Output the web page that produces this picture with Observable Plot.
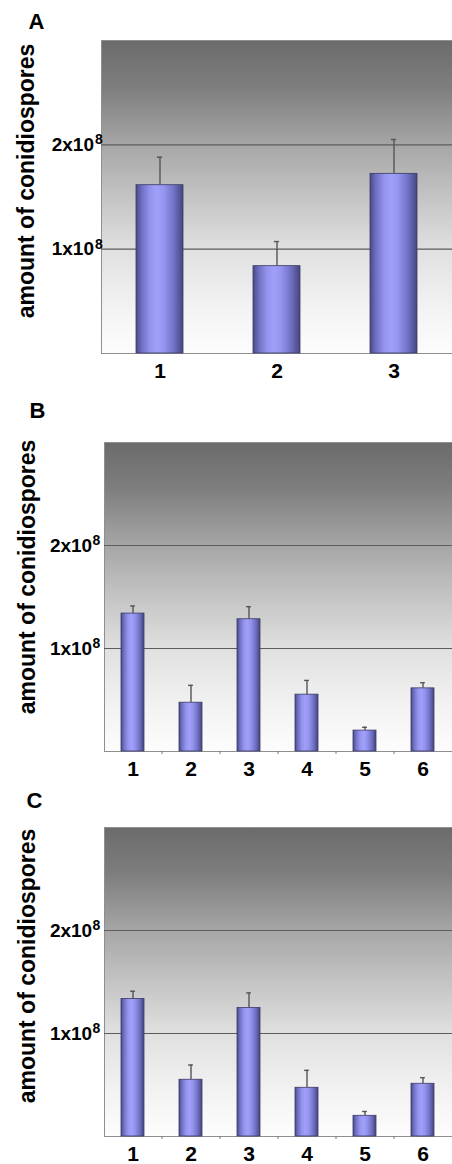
<!DOCTYPE html>
<html>
<head>
<meta charset="utf-8">
<script src="https://cdn.jsdelivr.net/npm/d3@7"></script>
<script src="https://cdn.jsdelivr.net/npm/@observablehq/plot@0.6"></script>
<style>
  html, body { margin: 0; padding: 0; background: #fff; }
  #chart svg { display: block; }
</style>
</head>
<body>
<div id="chart"></div>
<script>
// ---- Data ----
const yTitle = "amount of conidiospores";
const yTicks = [1e8, 2e8];
const yTickBase = ["1x10", "2x10"];
const yTickExp = ["8", "8"];

const catsA = ["1", "2", "3"];
const valuesA = [1.613e8, 0.837e8, 1.722e8];
const errsA = [0.269e8, 0.236e8, 0.329e8];

const catsB = ["1", "2", "3", "4", "5", "6"];
const valuesB = [1.339e8, 0.474e8, 1.284e8, 0.552e8, 0.203e8, 0.613e8];
const errsB = [0.074e8, 0.168e8, 0.122e8, 0.138e8, 0.032e8, 0.055e8];

const catsC = ["1", "2", "3", "4", "5", "6"];
const valuesC = [1.335e8, 0.551e8, 1.248e8, 0.473e8, 0.201e8, 0.512e8];
const errsC = [0.075e8, 0.143e8, 0.146e8, 0.169e8, 0.042e8, 0.059e8];

// ---- Drawing ----
const W = 452;
const FONT = "'Liberation Sans', Arial, Helvetica, sans-serif";

function addGradients(svg, id) {
  const defs = d3.select(svg).insert("defs", ":first-child");
  const bg = defs.append("linearGradient").attr("id", "bg" + id)
    .attr("x1", 0).attr("y1", 0).attr("x2", 0).attr("y2", 1);
  [[0, "#6b6b6b"], [0.15, "#7e7e7e"], [0.333, "#a6a6a6"], [0.5, "#c4c4c4"],
   [0.667, "#e0e0e0"], [0.85, "#f2f2f2"], [1, "#fdfdfd"]]
    .forEach(([o, c]) => bg.append("stop").attr("offset", o).attr("stop-color", c));
  const bar = defs.append("linearGradient").attr("id", "bar" + id)
    .attr("x1", 0).attr("y1", 0).attr("x2", 1).attr("y2", 0);
  [[0, "#4a4a82"], [0.12, "#6e6ec2"], [0.3, "#9494ee"], [0.45, "#a0a0fa"],
   [0.6, "#9494ee"], [0.8, "#7272c8"], [1, "#46467c"]]
    .forEach(([o, c]) => bar.append("stop").attr("offset", o).attr("stop-color", c));
}

function panel(cfg) {
  const {id, letter, cats, values, errs, height, mT, mB, mL, letterX, letterY,
         titleX, titleDy, baseDx, supDx, boundaryTicks} = cfg;
  const n = cats.length;
  const step = (W - mL) / n;
  const bw = step * 0.4;
  const capInset = (bw - 5) / 2;
  const data = cats.map((c, i) => ({c, v: values[i], e: values[i] + errs[i]}));
  const marks = [
    Plot.frame({fill: `url(#bg${id})`, stroke: "#8f8f8f"}),
    Plot.ruleY(yTicks, {y: d => d, stroke: "#5c5c5c", strokeWidth: 1.2}),
    Plot.barY(data, {x: "c", y: "v", fill: `url(#bar${id})`, stroke: "#3a3a66", strokeWidth: 0.8}),
    Plot.ruleX(data, {x: "c", y1: "v", y2: "e", stroke: "#555", strokeWidth: 1.4}),
    Plot.tickY(data, {x: "c", y: "e", stroke: "#555", strokeWidth: 1.4, insetLeft: capInset, insetRight: capInset}),
    Plot.text(yTicks, {y: d => d, text: (d, i) => yTickBase[i], frameAnchor: "left", textAnchor: "end", dx: baseDx, fontSize: 19}),
    Plot.text(yTicks, {y: d => d, text: (d, i) => yTickExp[i], frameAnchor: "left", textAnchor: "start", dx: supDx, dy: -5, fontSize: 14}),
    Plot.text([yTitle], {text: d => d, frameAnchor: "left", textAnchor: "middle", lineAnchor: "middle", rotate: -90, dx: titleX - mL, dy: titleDy, fontSize: 23}),
    Plot.text([letter], {text: d => d, frameAnchor: "top-left", textAnchor: "middle", lineAnchor: "middle", dx: letterX - mL, dy: letterY - mT, fontSize: 22})
  ];
  if (boundaryTicks) {
    marks.push(Plot.ruleX(cats.slice(1), {x: d => d, y1: 0, y2: 0, dx: -step / 2, insetBottom: -3, stroke: "#777", strokeWidth: 1}));
  }
  const svg = Plot.plot({
    width: W,
    height,
    marginTop: mT,
    marginBottom: mB,
    marginLeft: mL,
    marginRight: 0,
    style: {fontFamily: FONT, fontSize: "21px", fontWeight: "bold", color: "#000", background: "transparent", overflow: "visible"},
    x: {domain: cats, paddingInner: 0.6, paddingOuter: 0.3, align: 0.5, tickSize: 0, tickPadding: 10, label: null},
    y: {domain: [0, 3e8], axis: null},
    marks
  });
  addGradients(svg, id);
  return svg;
}

const root = document.getElementById("chart");
root.appendChild(panel({id: "A", letter: "A", cats: catsA, values: valuesA, errs: errsA,
  height: 390, mT: 40, mB: 37, mL: 101, letterX: 36, letterY: 21, titleX: 26, titleDy: -16, baseDx: -7.5, supDx: -6.5, boundaryTicks: false}));
root.appendChild(panel({id: "B", letter: "B", cats: catsB, values: valuesB, errs: errsB,
  height: 385, mT: 52, mB: 24, mL: 104, letterX: 37, letterY: 20, titleX: 27, titleDy: -20, baseDx: -12.3, supDx: -12, boundaryTicks: true}));
root.appendChild(panel({id: "C", letter: "C", cats: catsC, values: valuesC, errs: errsC,
  height: 389, mT: 52, mB: 28, mL: 104, letterX: 34, letterY: 25, titleX: 27, titleDy: -16, baseDx: -12.3, supDx: -12, boundaryTicks: true}));
</script>
</body>
</html>
